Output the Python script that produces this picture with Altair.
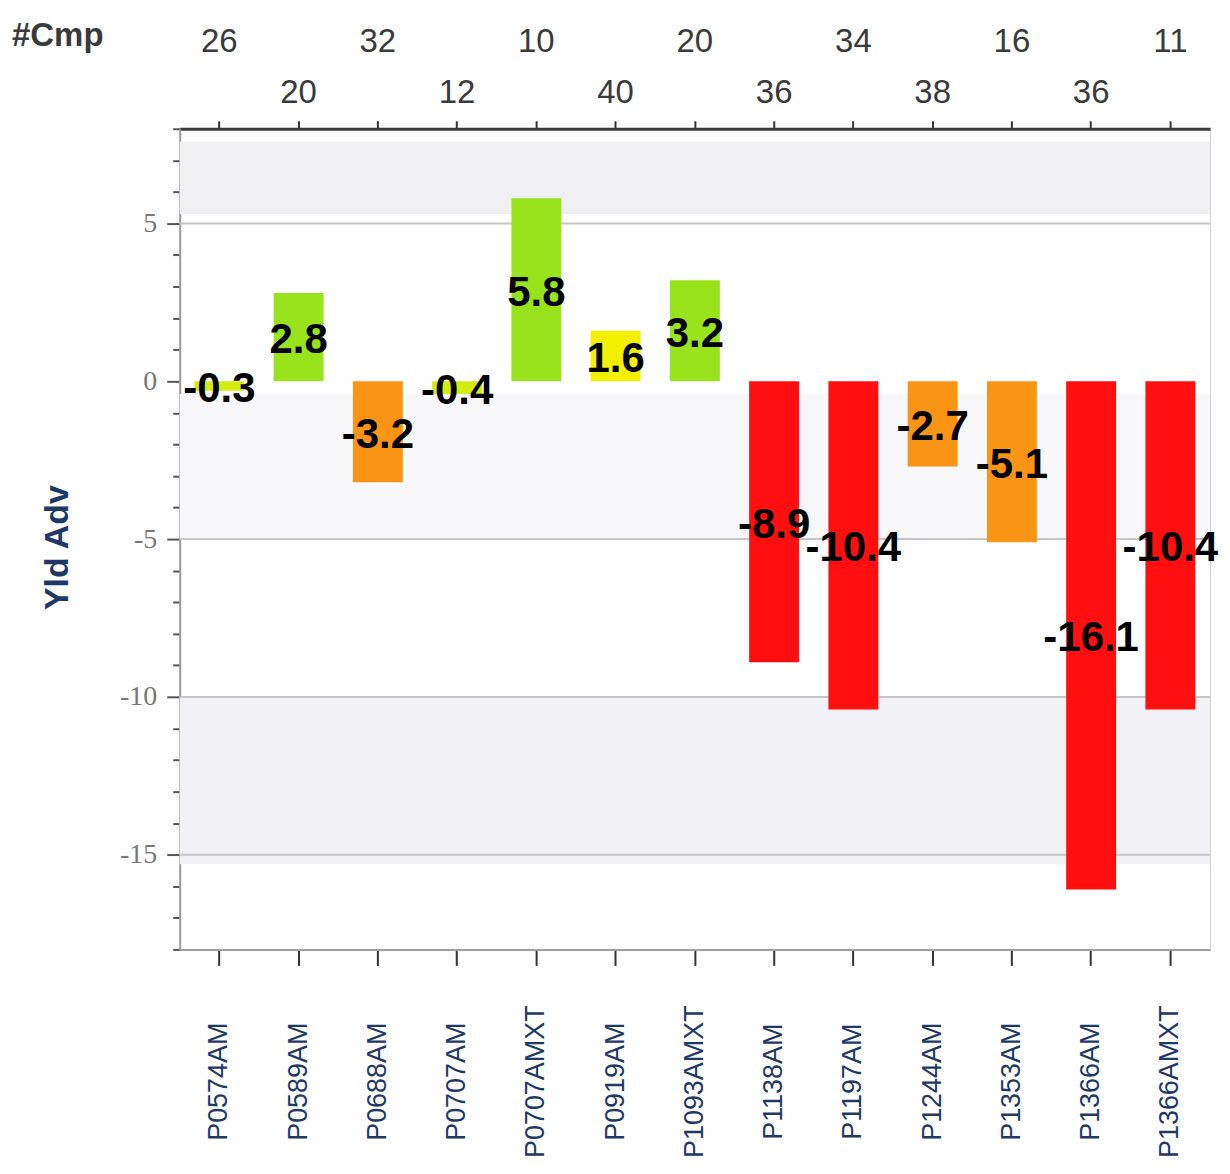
import altair as alt
import pandas as pd

# ---- data ----
products = ["P0574AM", "P0589AM", "P0688AM", "P0707AM", "P0707AMXT", "P0919AM",
            "P1093AMXT", "P1138AM", "P1197AM", "P1244AM", "P1353AM", "P1366AM", "P1366AMXT"]
yld_adv = [-0.3, 2.8, -3.2, -0.4, 5.8, 1.6, 3.2, -8.9, -10.4, -2.7, -5.1, -16.1, -10.4]
cmp_counts = [26, 20, 32, 12, 10, 40, 20, 36, 34, 38, 16, 36, 11]
status = ["flat", "good", "warn", "flat", "good", "fair", "good",
          "bad", "bad", "warn", "warn", "bad", "bad"]

status_names = ["good", "fair", "flat", "warn", "bad"]
status_colors = ["#99e31c", "#f2ef00", "#d3ec10", "#fa9414", "#ff0f0f"]

band_lo = [5.3, -5.0, -15.3]
band_hi = [7.6, -0.4, -10.0]
band_kind = ["upper", "middle", "lower"]

grid_values = [5, -5, -10, -15]
y_ticks = list(range(-18, 9))
y_domain = [-18, 8]

df = pd.DataFrame({
    "product": products,
    "yld": yld_adv,
    "cmp": cmp_counts,
    "status": status,
})
df["half"] = df["yld"] / 2
df["label"] = [f"{v:.1f}" for v in yld_adv]
df["idx"] = list(range(len(products)))
df["cmp_txt"] = [str(c) for c in cmp_counts]

bands_df = pd.DataFrame({"lo": band_lo, "hi": band_hi, "kind": band_kind})
grid_df = pd.DataFrame({"v": grid_values})
cmp_head = pd.DataFrame({"t": ["#Cmp"]})

x_scale = alt.Scale(domain=products, paddingInner=0.37, paddingOuter=0.185)
y_scale = alt.Scale(domain=y_domain, nice=False, zero=False)

x_bottom = alt.X("product:N", scale=x_scale, sort=products, axis=alt.Axis(
    orient="bottom", title=None, labelAngle=270, labelAlign="center",
    labelBaseline="middle", labelPadding=116, labelFont="Liberation Sans",
    labelFontSize=27, labelColor="#1f3864", tickSize=16, tickColor="#333333",
    tickWidth=2, domainColor="#a0a0a0", domainWidth=2, labelOverlap=False))

x_top = alt.X("product:N", scale=x_scale, sort=products, axis=alt.Axis(
    orient="top", title=None, labels=False, tickSize=8, tickColor="#333333",
    tickWidth=2, domainColor="#3a3a3a", domainWidth=3))

x_plain = alt.X("product:N", scale=x_scale, sort=products, axis=None)

y_axis = alt.Axis(
    values=y_ticks,
    labelExpr="datum.value % 5 === 0 ? toString(datum.value) : ''",
    tickSize={"condition": {"test": "datum.value % 5 === 0", "value": 13}, "value": 7},
    tickColor="#555555", tickWidth=2, grid=False,
    domainColor="#9a9a9a", domainWidth=2,
    labelFont="Liberation Serif", labelFontSize=28, labelColor="#777777",
    labelPadding=10, labelOverlap=False,
    title="Yld Adv", titleFont="Liberation Sans", titleFontSize=34,
    titleFontWeight="bold", titleColor="#1f3864", titleAngle=270,
    titleAlign="center", titleBaseline="middle", titleX=-122, titleY=419,
)

bands = alt.Chart(bands_df).mark_rect().encode(
    x=alt.value(0), x2=alt.value("width"),
    y=alt.Y("lo:Q", scale=y_scale, axis=y_axis),
    y2="hi:Q",
    color=alt.Color("kind:N", scale=alt.Scale(
        domain=band_kind, range=["#f0f0f3", "#f8f8fa", "#f2f2f6"]), legend=None),
)

grid = alt.Chart(grid_df).mark_rule(color="#c6c6ca", strokeWidth=2).encode(
    y=alt.Y("v:Q", scale=y_scale, axis=y_axis),
)

bars = alt.Chart(df).mark_bar().encode(
    x=x_bottom,
    y=alt.Y("yld:Q", scale=y_scale, axis=y_axis),
    color=alt.Color("status:N", scale=alt.Scale(domain=status_names, range=status_colors),
                    legend=None),
)

values = alt.Chart(df).mark_text(
    font="Liberation Sans", fontSize=42, fontWeight="bold", color="#000000",
    baseline="middle", dy=3,
).encode(
    x=x_plain,
    y=alt.Y("half:Q", scale=y_scale, axis=y_axis),
    text="label:N",
)

top_row = alt.Chart(df).transform_filter("datum.idx % 2 === 0").mark_text(
    font="Liberation Sans", fontSize=33, color="#3a3a3a", baseline="alphabetic",
).encode(x=x_top, y=alt.value(-77), text="cmp_txt:N")

bottom_row = alt.Chart(df).transform_filter("datum.idx % 2 === 1").mark_text(
    font="Liberation Sans", fontSize=33, color="#3a3a3a", baseline="alphabetic",
).encode(x=x_plain, y=alt.value(-26), text="cmp_txt:N")

head = alt.Chart(cmp_head).mark_text(
    font="Liberation Sans", fontSize=33, fontWeight="bold", color="#3a3a3a",
    align="left", baseline="alphabetic",
).encode(x=alt.value(-168), y=alt.value(-83), text="t:N")

chart = alt.layer(bands, grid, bars, values, top_row, bottom_row, head).resolve_scale(
    color="independent"
).properties(
    width=1032, height=822, autosize="none",
    padding={"left": 172, "top": 120, "right": 12, "bottom": 212},
).configure_view(stroke="#d4d4d8", strokeWidth=1)

chart.save("out.html", embed_options={"renderer": "svg", "actions": False})
